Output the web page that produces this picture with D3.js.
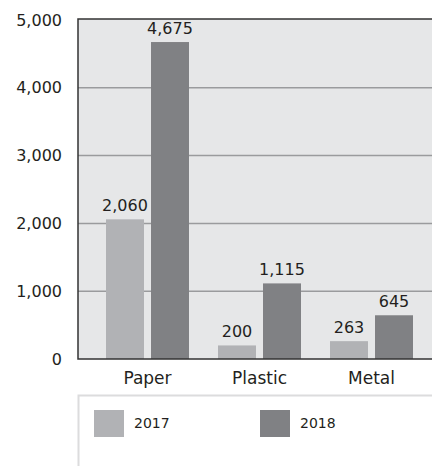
<!DOCTYPE html>
<html>
<head>
<meta charset="utf-8">
<script src="https://cdn.jsdelivr.net/npm/d3@7"></script>
<style>
body { margin: 0; background: #fff; }
svg text { font-family: "DejaVu Sans", sans-serif; fill: #231f20; }
</style>
</head>
<body>
<script>
var categories = ["Paper", "Plastic", "Metal"];
var years = ["2017", "2018"];
var values2017 = [2060, 200, 263];
var values2018 = [4675, 1115, 645];
var yTicks = [0, 1000, 2000, 3000, 4000, 5000];
var colors = ["#b1b2b5", "#808184"];

var width = 432, height = 466;
var plotLeft = 78, plotTop = 19, plotBottom = 359, plotRight = 432;

var series = [values2017, values2018];
var data = categories.map(function(c, i) {
  return { cat: c, vals: series.map(function(s, j) { return { year: years[j], v: s[i] }; }) };
});

var svg = d3.select("body").append("svg")
  .attr("width", width)
  .attr("height", height);

var x = d3.scaleBand().domain(categories).range([91.5, 427.5]);
var x1 = d3.scaleBand().domain(years).range([0, x.bandwidth()]).paddingInner(0.156).paddingOuter(0.322);
var y = d3.scaleLinear().domain([0, 5000]).range([plotBottom, 20]);

// plot background
svg.append("rect")
  .attr("x", plotLeft).attr("y", plotTop)
  .attr("width", plotRight - plotLeft).attr("height", plotBottom - plotTop)
  .attr("fill", "#e6e7e8");

// gridlines
svg.append("g")
  .selectAll("line")
  .data(yTicks.filter(function(d) { return d > 0 && d < 5000; }))
  .enter().append("line")
  .attr("x1", plotLeft).attr("x2", plotRight)
  .attr("y1", function(d) { return y(d); })
  .attr("y2", function(d) { return y(d); })
  .attr("stroke", "#9a9b9d")
  .attr("stroke-width", 1.5);

// y tick labels
var yAxis = svg.append("g")
  .attr("transform", "translate(" + plotLeft + ",0)")
  .call(d3.axisLeft(y).tickValues(yTicks).tickSize(0).tickPadding(16).tickFormat(d3.format(",")));
yAxis.select(".domain").remove();
yAxis.selectAll("text").style("font-size", "16px").attr("fill", "#231f20");

// bars
var groups = svg.selectAll(".grp")
  .data(data)
  .enter().append("g")
  .attr("class", "grp")
  .attr("transform", function(d) { return "translate(" + x(d.cat) + ",0)"; });

groups.selectAll("rect")
  .data(function(d) { return d.vals; })
  .enter().append("rect")
  .attr("x", function(d) { return x1(d.year); })
  .attr("width", x1.bandwidth())
  .attr("y", function(d) { return y(d.v); })
  .attr("height", function(d) { return plotBottom - y(d.v); })
  .attr("fill", function(d, i) { return colors[i]; });

groups.selectAll(".val")
  .data(function(d) { return d.vals; })
  .enter().append("text")
  .attr("class", "val")
  .attr("x", function(d) { return x1(d.year) + x1.bandwidth() / 2; })
  .attr("y", function(d) { return y(d.v) - 8; })
  .attr("text-anchor", "middle")
  .style("font-size", "16px")
  .text(function(d) { return d3.format(",")(d.v); });

// frame lines
svg.append("path")
  .attr("d", "M" + plotRight + "," + plotTop + "H" + plotLeft + "V" + plotBottom + "H" + plotRight)
  .attr("fill", "none")
  .attr("stroke", "#333")
  .attr("stroke-width", 1.5);

// category labels
var xAxis = svg.append("g")
  .attr("transform", "translate(0," + plotBottom + ")")
  .call(d3.axisBottom(x).tickSize(0).tickPadding(13));
xAxis.select(".domain").remove();
xAxis.selectAll("text").style("font-size", "17px").attr("fill", "#231f20");

// legend
svg.append("path")
  .attr("d", "M" + plotRight + ",395.5H" + (plotLeft + 0.5) + "V" + height)
  .attr("fill", "none")
  .attr("stroke", "#dcdcdd")
  .attr("stroke-width", 2);

var legend = svg.selectAll(".leg")
  .data(years)
  .enter().append("g")
  .attr("class", "leg")
  .attr("transform", function(d, i) { return "translate(" + (94 + i * 166) + ",410)"; });

legend.append("rect")
  .attr("width", 30).attr("height", 27)
  .attr("fill", function(d, i) { return colors[i]; });

legend.append("text")
  .attr("x", 40).attr("y", 18)
  .style("font-size", "14px")
  .text(function(d) { return d; });
</script>
</body>
</html>
